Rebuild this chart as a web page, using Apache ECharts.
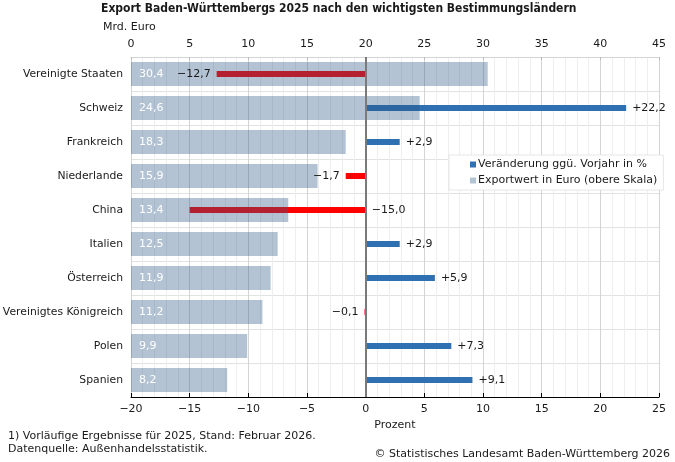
<!DOCTYPE html>
<html>
<head>
<meta charset="utf-8">
<script src="https://cdn.jsdelivr.net/npm/echarts@6/dist/echarts.min.js"></script>
<style>
html,body{margin:0;padding:0;background:#fff;}
#c{width:675px;height:462px;}
</style>
</head>
<body>
<div id="c"></div>
<script>
const countries = ['Vereinigte Staaten','Schweiz','Frankreich','Niederlande','China','Italien','Österreich','Vereinigtes Königreich','Polen','Spanien'];
const exportValues = [30.4, 24.6, 18.3, 15.9, 13.4, 12.5, 11.9, 11.2, 9.9, 8.2];
const changeValues = [-12.7, 22.2, 2.9, -1.7, -15.0, 2.9, 5.9, -0.1, 7.3, 9.1];
const topTicks = {min: 0, max: 45, interval: 5};
const bottomTicks = {min: -20, max: 25, interval: 5};

const FONT = "'DejaVu Sans', sans-serif";
const TFONT = "'DejaVu Sans Condensed', 'DejaVu Sans', sans-serif";
const RED = '#ff0000';
const BLUE = '#2e70b2';
const GREY = 'rgba(45,88,133,0.36)';

const fmtDec = v => Math.abs(v).toFixed(1).replace('.', ',');
const fmtChange = v => (v < 0 ? '\u2212' : '+') + fmtDec(v);
const fmtAxis = v => (v < 0 ? '\u2212' + Math.abs(v) : String(v));
// a negative label goes left of the bar end unless it would run into the value label of the grey bar
const changeSide = v => (v < 0 && v - 3 > bottomTicks.min + 4) ? 'left' : 'right';

const chart = echarts.init(document.getElementById('c'), null, {renderer: 'canvas'});
chart.setOption({
  animation: false,
  backgroundColor: '#fff',
  textStyle: {fontFamily: FONT},
  grid: {left: 131, right: 16, top: 57, bottom: 65, containLabel: false, outerBoundsMode: 'none'},
  graphic: [
    {type: 'text', left: 101, top: 3, style: {text: 'Export Baden-Württembergs 2025 nach den wichtigsten Bestimmungsländern', font: 'bold 12px ' + TFONT, fill: '#1a1a1a'}},
    {type: 'text', left: 103, top: 22, style: {text: 'Mrd. Euro', font: '11px ' + FONT, fill: '#1a1a1a'}},
    {type: 'text', left: 8, top: 431, style: {text: '1) Vorläufige Ergebnisse für 2025, Stand: Februar 2026.', font: '11px ' + FONT, fill: '#1a1a1a'}},
    {type: 'text', left: 8, top: 444, style: {text: 'Datenquelle: Außenhandelsstatistik.', font: '11px ' + FONT, fill: '#1a1a1a'}},
    {type: 'text', right: 5, top: 449, style: {text: '© Statistisches Landesamt Baden-Württemberg 2026', font: '11px ' + FONT, fill: '#1a1a1a'}}
  ],
  legend: {
    orient: 'vertical',
    left: 449, top: 155,
    padding: [4, 6, 4, 21],
    itemGap: 5,
    itemWidth: 6, itemHeight: 6,
    backgroundColor: '#fff',
    borderColor: '#e6e6e6', borderWidth: 1,
    textStyle: {fontFamily: FONT, fontSize: 11, color: '#1a1a1a', padding: [0, 0, 0, -3]},
    data: [
      {name: 'Veränderung ggü. Vorjahr in %', icon: 'rect', itemStyle: {color: BLUE}},
      {name: 'Exportwert in Euro (obere Skala)', icon: 'rect', itemStyle: {color: '#b4c4d4'}}
    ]
  },
  xAxis: [
    {
      type: 'value', position: 'bottom',
      min: bottomTicks.min, max: bottomTicks.max, interval: bottomTicks.interval,
      name: 'Prozent', nameLocation: 'middle', nameGap: 23,
      nameTextStyle: {fontFamily: FONT, fontSize: 11, color: '#1a1a1a'},
      axisLine: {show: true, onZero: false, lineStyle: {color: '#000', width: 1}},
      axisTick: {show: true, inside: true, length: 4, lineStyle: {color: '#000'}},
      axisLabel: {margin: 7, fontSize: 11, color: '#1a1a1a', fontFamily: FONT, formatter: fmtAxis},
      splitLine: {show: true, lineStyle: {color: '#d4d4d4', width: 1}},
      minorTick: {show: false, splitNumber: 5},
      minorSplitLine: {show: true, lineStyle: {color: '#eeeeee', width: 1}}
    },
    {
      type: 'value', position: 'top',
      min: topTicks.min, max: topTicks.max, interval: topTicks.interval,
      axisLine: {show: true, onZero: false, lineStyle: {color: '#d4d4d4', width: 1}},
      axisTick: {show: true, inside: true, length: 3, lineStyle: {color: '#bbbbbb'}},
      axisLabel: {margin: 7, fontSize: 11, color: '#1a1a1a', fontFamily: FONT, formatter: fmtAxis},
      splitLine: {show: false}
    }
  ],
  yAxis: [
    {
      type: 'category', data: countries, inverse: true,
      axisLine: {show: false}, axisTick: {show: false},
      axisLabel: {margin: 8, fontSize: 10.8, color: '#1a1a1a', fontFamily: FONT},
      splitLine: {show: true, lineStyle: {color: '#e2e2e2', width: 1}}
    },
    {
      type: 'category', data: countries, inverse: true, position: 'left',
      show: false
    }
  ],
  series: [
    {
      name: 'Veränderung ggü. Vorjahr in %',
      type: 'bar', xAxisIndex: 0, yAxisIndex: 1,
      barWidth: 6, barGap: '-100%', z: 2,
      itemStyle: {color: BLUE},
      data: changeValues.map(v => v < 0 ? {value: v, itemStyle: {color: RED}} : {value: v})
    },
    {
      name: 'Exportwert in Euro (obere Skala)',
      type: 'bar', xAxisIndex: 1, yAxisIndex: 0,
      barWidth: 24, z: 3,
      itemStyle: {color: GREY},
      label: {show: true, position: 'insideLeft', distance: 8, color: '#fff', fontSize: 11, fontFamily: FONT,
        formatter: p => fmtDec(p.value)},
      data: exportValues
    },
    {
      name: 'labels',
      type: 'bar', xAxisIndex: 0, yAxisIndex: 1,
      barWidth: 6, barGap: '-100%', z: 4,
      itemStyle: {color: 'rgba(0,0,0,0)'},
      silent: true,
      label: {show: true, fontSize: 11, fontFamily: FONT, color: '#1a1a1a', distance: 6,
        formatter: p => fmtChange(p.value)},
      data: changeValues.map(v => ({value: v, label: {position: changeSide(v)}})),
      markLine: {
        silent: true, symbol: ['none', 'none'],
        label: {show: false},
        lineStyle: {color: '#7a7a7a', width: 2, type: 'solid'},
        data: [{xAxis: 0}]
      }
    }
  ]
});
</script>
</body>
</html>
